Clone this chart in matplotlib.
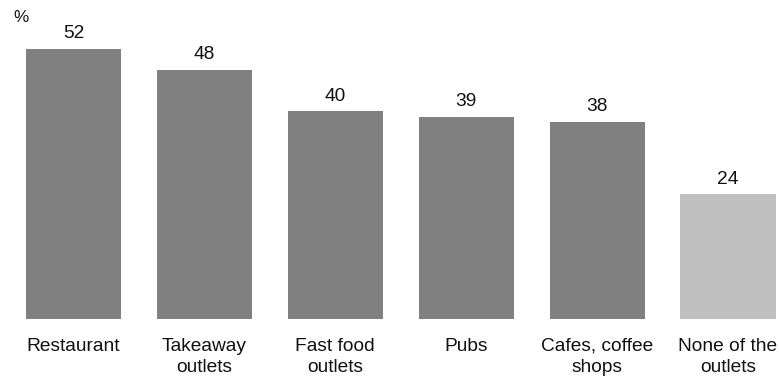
import matplotlib
matplotlib.use("Agg")
import matplotlib.pyplot as plt

categories = ["Restaurant", "Takeaway\noutlets", "Fast food\noutlets", "Pubs",
              "Cafes, coffee\nshops", "None of the\noutlets"]
values = [52, 48, 40, 39, 38, 24]
colors = ["#808080"] * 5 + ["#c0c0c0"]

plt.rcParams["font.family"] = ["Liberation Sans", "DejaVu Sans"]
fs = 13.8

fig = plt.figure(figsize=(7.79, 3.79), dpi=100)
ax = fig.add_axes([0, 60 / 379, 1, 319 / 379])

x = list(range(len(values)))
bars = ax.bar(x, values, width=0.726, color=colors)
ax.set_xlim(-73.5 / 130.9, (779 - 73.5) / 130.9)
ax.set_ylim(0, 319 / 5.192)

for b, v in zip(bars, values):
    ax.annotate(str(v), (b.get_x() + b.get_width() / 2, v), xytext=(0, 7.7),
                textcoords="offset points", ha="center", va="baseline",
                fontsize=fs, color="#111111")

ax.set_xticks(x)
ax.set_xticklabels(categories, fontsize=fs, color="#111111", linespacing=1.33)
ax.tick_params(axis="x", length=0, pad=13.5)
ax.set_yticks([])
for s in ax.spines.values():
    s.set_visible(False)

fig.text(13 / 779, 1 - 17 / 379, "%", fontsize=fs - 1.5, va="center", ha="left",
         color="#111111")

fig.savefig("out.png", dpi=100)
